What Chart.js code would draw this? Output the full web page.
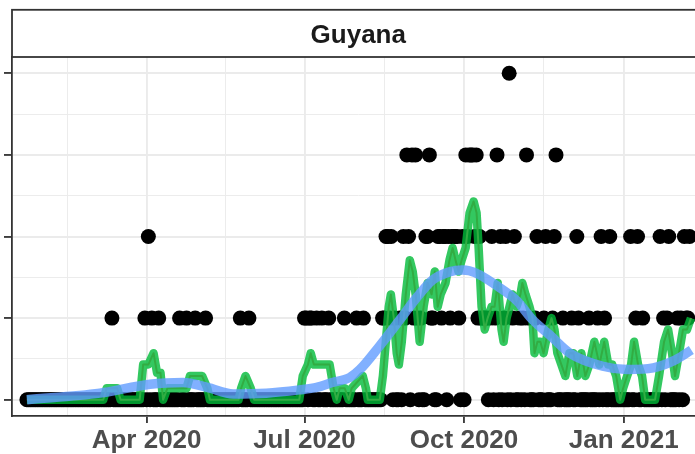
<!DOCTYPE html>
<html><head><meta charset="utf-8">
<script src="https://cdn.jsdelivr.net/npm/chart.js@4"></script>
<style>html,body{margin:0;padding:0;background:#fff;overflow:hidden;width:695px;height:454px}canvas{display:block}</style>
</head><body>
<canvas id="c" width="712" height="454"></canvas>
<script>
// ---------- data ----------
const panelTitle = 'Guyana';
const firstDay = 22; // days since 2020-01-01 of the first daily value (2020-01-23)
const dailyCases = [
  0,0,0,0,0,0,0,0,0,0, 0,0,0,0,0,0,0,0,0,0, 0,0,0,0,0,0,0,0,0,0, 0,0,0,0,0,0,0,0,0,0,
  0,0,0,0,0,0,0,0,0,1, 0,0,0,0,0,0,0,0,0,0, 0,0,0,0,0,0,0,0,1,0,
  2,0,1,0,0,0,1,0,0,0, 0,0,0,0,0,0,0,0,1,0, 0,0,1,0,0,0,0,1,0,0, 0,0,0,1,0,0,0,0,0,0,
  0,0,0,0,0,0,0,0,0,0, 0,0,0,1,0,0,0,0,1,0, 0,0,0,0,0,0,0,0,0,0, 0,0,0,0,0,0,0,0,0,0,
  0,0,0,0,0,0,0,0,0,0, 1,1,0,1,1,0,0,1,0,0, 1,0,0,0,1,0,0,0,0,0, 0,0,0,1,0,0,0,0,0,0,
  1,0,0,0,1,0,0,0,0,0, 0,0,0,0,0,1,1,2,2,1, 2,0,1,0,0,1,0,2,1,3, 2,0,3,1,3,1,0,1,0,0,
  2,2,3,1,1,0,0,2,2,1, 2,2,0,2,1,2,2,2,2,1, 0,2,0,3,2,3,3,3,2,3, 1,2,1,1,1,1,0,1,2,0,
  1,3,0,2,0,1,2,0,4,0, 1,2,0,0,1,0,1,0,3,1, 0,0,0,1,2,0,0,0,1,2, 0,0,0,1,2,3,0,0,0,1,
  0,0,0,0,1,0,0,2,1,0, 0,0,0,0,1,0,0,0,0,1, 0,2,0,1,0,0,2,0,0,0, 0,0,0,0,0,0,0,0,2,0,
  0,1,2,0,0,1,0,0,0,0, 0,0,0,0,0,2,0,1,0,1, 2,0,0,0,0,1,0,1,0,2, 1,1,2
];
// rolling average (days since 2020-01-01, value)
const avgDays = [22,66,68,74,76,87,89,92,95,97,99,100.5,103,114,116,123,126,127.5,144,145.5,148,151,153,
  179,181,184,185.6,187.4,196.5,198.8,200.6,202.3,205.2,207.5,209.2,215.6,217.4,218.5,225.4,227.2,228.9,
  230.6,231.8,233.5,235.2,236.4,238.1,240.4,242.7,244.4,246.1,248.4,250.7,253,255.3,257.1,258.8,260.5,
  263.3,265.6,267.4,269.1,270.8,272.6,274.9,277.2,279.5,281.2,282.4,284.1,285.9,287.6,289.9,291.6,293.4,
  295.6,296.8,298.5,300.2,301.9,304.2,306.5,307.6,309.4,311.7,313.4,314.6,316.3,318,319.8,322.6,324.4,
  326.1,327.8,330.1,332.4,334.7,337,339.3,341.6,343.9,346.2,349.1,352,354.8,357.1,359.4,361.7,364,365.7,
  368,370.3,372,374.3,376.6,378.4,384.1,386.4,389.3,391.6,393.9,395.6,397.9,400.2,402.5,404.8];
const avgValues = [0,0,0.14,0.14,0,0,0.43,0.43,0.57,0.33,0.33,0,0.14,0.14,0.29,0.29,0.14,0,0,0.14,0.29,0.14,0,
  0,0.29,0.43,0.57,0.43,0.43,0.14,0,0.14,0.14,0,0.14,0.29,0.14,0,0,0.29,0.71,
  1.14,1.29,1.0,0.57,0.43,0.71,1.29,1.71,1.57,1.29,0.71,1.14,1.43,1.29,1.57,1.14,1.29,
  1.43,1.71,1.86,1.71,1.57,1.71,1.86,2.29,2.43,2.29,1.86,1.14,0.86,1.0,1.14,1.14,1.43,
  0.86,0.71,1.0,1.14,1.29,1.14,1.29,1.43,1.29,1.14,1.0,0.57,0.71,0.71,0.57,0.86,1.0,
  0.86,0.57,0.43,0.29,0.57,0.57,0.29,0.57,0.29,0.43,0.71,0.43,0.71,0.43,0.43,0.29,0,0.14,
  0.29,0.43,0.71,0.43,0.29,0,0,0.29,0.71,0.86,0.57,0.29,0.57,0.86,0.86,1.0];
// smoothed trend
const smoothDays = [22,64,93,112,126,141,160,179,189,198,208,214,225,237,247,256,266,273,277,283,294,304,313.5,323,335,354,368,383,396,405];
const smoothValues = [0,0.08,0.19,0.21,0.15,0.07,0.08,0.12,0.15,0.21,0.27,0.37,0.65,0.98,1.26,1.47,1.57,1.59,1.58,1.53,1.38,1.22,0.98,0.80,0.57,0.41,0.37,0.39,0.49,0.61];
// axes
const xTickDays = [91, 182, 274, 366];
const xTickLabels = ['Apr 2020', 'Jul 2020', 'Oct 2020', 'Jan 2021'];
const xMinorDays = [45.5, 136.5, 228, 320];
const yTickValues = [0, 1, 2, 3, 4];
const yMinorValues = [0.5, 1.5, 2.5, 3.5];

// ---------- chart ----------
const FONT = '"Liberation Sans", Arial, Helvetica, sans-serif';
const dotPoints = dailyCases.map((v, i) => ({ x: firstDay + i, y: v }));
const avgPoints = avgDays.map((d, i) => ({ x: d, y: avgValues[i] }));
const smoothPoints = smoothDays.map((d, i) => ({ x: d, y: smoothValues[i] }));
const isMajorX = v => xTickDays.includes(v);
const isMajorY = v => yTickValues.includes(v);

const stripPlugin = {
  id: 'strip',
  afterDraw(chart) {
    const { ctx, chartArea: a } = chart;
    const top = a.top - 47.2;
    ctx.save();
    ctx.fillStyle = '#ffffff';
    ctx.fillRect(a.left, top, a.right - a.left, a.top - top);
    ctx.strokeStyle = '#333333';
    ctx.lineWidth = 1.8;
    ctx.strokeRect(a.left, top, a.right - a.left, a.top - top);
    ctx.fillStyle = '#1A1A1A';
    ctx.font = 'bold 26px ' + FONT;
    ctx.textAlign = 'center';
    ctx.textBaseline = 'alphabetic';
    ctx.fillText(panelTitle, (a.left + a.right) / 2, a.top - 14.5);
    ctx.restore();
  }
};

new Chart(document.getElementById('c'), {
  type: 'scatter',
  data: {
    datasets: [
      { label: 'trend', data: smoothPoints, showLine: true, pointRadius: 0, borderColor: 'rgba(97,156,255,0.8)',
        borderWidth: 9.5, cubicInterpolationMode: 'monotone', borderJoinStyle: 'round', order: 0 },
      { label: 'avg', data: avgPoints, showLine: true, pointRadius: 0, borderColor: 'rgba(0,186,56,0.8)',
        borderWidth: 8.5, tension: 0, borderJoinStyle: 'round', order: 1 },
      { label: 'avg2', data: avgPoints, showLine: true, pointRadius: 0, borderColor: '#F8766D',
        borderWidth: 2, tension: 0, borderJoinStyle: 'round', order: 2 },
      { label: 'cases', data: dotPoints, pointRadius: 7.5, pointBackgroundColor: '#000', pointBorderWidth: 0,
        showLine: false, order: 3 }
    ]
  },
  options: {
    responsive: false,
    animation: false,
    devicePixelRatio: 1,
    events: [],
    layout: { padding: { top: 57, right: 7, left: 0, bottom: 0 } },
    plugins: { legend: { display: false }, tooltip: { enabled: false } },
    scales: {
      x: {
        type: 'linear', min: 13.4, max: 412.6,
        afterBuildTicks: s => { s.ticks = xMinorDays.concat(xTickDays).sort((a, b) => a - b).map(v => ({ value: v })); },
        afterFit: s => { s.height = 38; },
        ticks: {
          autoSkip: false, maxRotation: 0, minRotation: 0, padding: 2, color: '#4D4D4D',
          font: { family: FONT, size: 26, weight: 'bold' },
          callback: v => { const i = xTickDays.indexOf(v); return i >= 0 ? xTickLabels[i] : ''; }
        },
        grid: {
          color: '#EBEBEB',
          lineWidth: c => (c.tick && isMajorX(c.tick.value)) ? 1.9 : 0.95,
          tickColor: c => (c.tick && isMajorX(c.tick.value)) ? '#333333' : 'rgba(0,0,0,0)',
          tickLength: 7, tickWidth: 1.8, drawTicks: true
        },
        border: { display: true, color: '#333333', width: 1.8 }
      },
      y: {
        type: 'linear', min: -0.2, max: 4.2,
        afterBuildTicks: s => { s.ticks = yMinorValues.concat(yTickValues).sort((a, b) => a - b).map(v => ({ value: v })); },
        afterFit: s => { s.width = 12; },
        ticks: { display: false },
        grid: {
          color: '#EBEBEB',
          lineWidth: c => (c.tick && isMajorY(c.tick.value)) ? 1.9 : 0.95,
          tickColor: c => (c.tick && isMajorY(c.tick.value)) ? '#333333' : 'rgba(0,0,0,0)',
          tickLength: 8, tickWidth: 1.8, drawTicks: true
        },
        border: { display: true, color: '#333333', width: 1.8 }
      }
    }
  },
  plugins: [stripPlugin]
});
</script>
</body></html>
